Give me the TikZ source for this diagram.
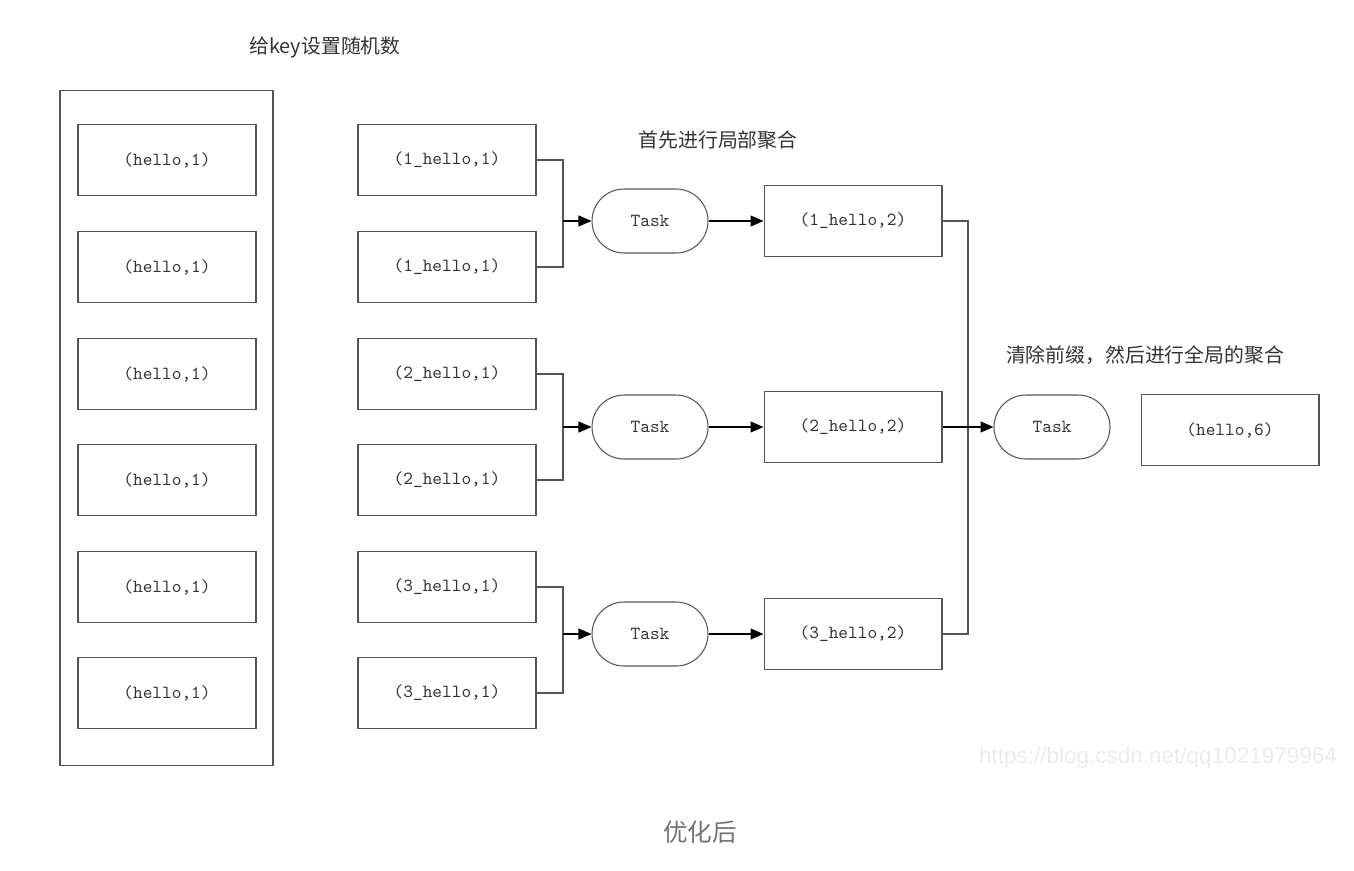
\documentclass[tikz,border=0pt]{standalone}
\usepackage{fontspec}
\setmonofont{Latin Modern Mono}
\newfontfamily\cjk{Noto Sans CJK SC}
\newfontfamily\wmfont{Liberation Sans}
\usetikzlibrary{arrows.meta}
\definecolor{linegray}{HTML}{555555}
\definecolor{textgray}{HTML}{333333}
\begin{document}
\begin{tikzpicture}[x=0.02cm, y=-0.02cm]
        \tikzstyle{arrow} = [line width=0.6pt, draw=black, -{Triangle[length=2.6mm,width=2.2mm]}]
        \tikzstyle{wire} = [line width=0.6pt, draw=linegray]
        \tikzstyle{pair} = [rectangle, minimum width=3.56cm, minimum height=1.42cm, text centered, draw=linegray, line width=0.6pt, text=textgray, font=\ttfamily\fontsize{10.5}{12}\selectfont]
        \tikzstyle{task} = [rectangle, rounded corners=0.64cm, minimum width=2.32cm, minimum height=1.28cm, text centered, draw=linegray, line width=0.6pt, text=textgray, font=\ttfamily\fontsize{10.5}{12}\selectfont]
        \tikzstyle{note} = [text=black!80, font=\cjk\fontsize{11.3}{13}\selectfont]

        \useasboundingbox (0,0) rectangle (1354,870);

        % left column: keys with random prefix
        \node (title) [note] at (325,47) {给key设置随机数};
        \node (outer) [rectangle, draw=linegray, line width=0.6pt, minimum width=4.26cm, minimum height=13.52cm] at (166.5,428) {};
        \node (k1) [pair] at (167,160) {(hello,1)};
        \node (k2) [pair] at (167,267) {(hello,1)};
        \node (k3) [pair] at (167,374) {(hello,1)};
        \node (k4) [pair] at (167,480) {(hello,1)};
        \node (k5) [pair] at (167,587) {(hello,1)};
        \node (k6) [pair] at (167,693) {(hello,1)};

        % prefixed keys
        \node (m11) [pair] at (447,160) {(1\_hello,1)};
        \node (m12) [pair] at (447,267) {(1\_hello,1)};
        \node (m21) [pair] at (447,374) {(2\_hello,1)};
        \node (m22) [pair] at (447,480) {(2\_hello,1)};
        \node (m31) [pair] at (447,587) {(3\_hello,1)};
        \node (m32) [pair] at (447,693) {(3\_hello,1)};

        % local aggregation
        \node (local) [note] at (718,140) {首先进行局部聚合};
        \node (t1) [task] at (650,221) {Task};
        \node (t2) [task] at (650,427) {Task};
        \node (t3) [task] at (650,634) {Task};
        \node (r1) [pair] at (853,221) {(1\_hello,2)};
        \node (r2) [pair] at (853,427) {(2\_hello,2)};
        \node (r3) [pair] at (853,634) {(3\_hello,2)};

        % global aggregation
        \node (global) [note] at (1145,355) {清除前缀，然后进行全局的聚合};
        \node (tg) [task] at (1052,427) {Task};
        \node (res) [pair] at (1230,430) {(hello,6)};

        \coordinate (j1) at (563,221);
        \coordinate (j2) at (563,427);
        \coordinate (j3) at (563,634);
        \coordinate (jg) at (968,427);

        \draw [wire] (m11.east) -| (j1) |- (m12.east);
        \draw [wire] (m21.east) -| (j2) |- (m22.east);
        \draw [wire] (m31.east) -| (j3) |- (m32.east);
        \draw [arrow] (j1) -- (t1);
        \draw [arrow] (j2) -- (t2);
        \draw [arrow] (j3) -- (t3);
        \draw [arrow] (t1) -- (r1);
        \draw [arrow] (t2) -- (r2);
        \draw [arrow] (t3) -- (r3);
        \draw [wire] (r1.east) -| (jg) |- (r3.east);
        \draw [arrow] (r2) -- (tg);

        \node (mark) [text=black!8, font=\wmfont\fontsize{12.8}{14}\selectfont] at (1158,758) {https://blog.csdn.net/qq1021979964};
        \node (caption) [text=black!55, font=\cjk\fontsize{14}{16}\selectfont] at (700,832) {优化后};

    \end{tikzpicture}
\end{document}
